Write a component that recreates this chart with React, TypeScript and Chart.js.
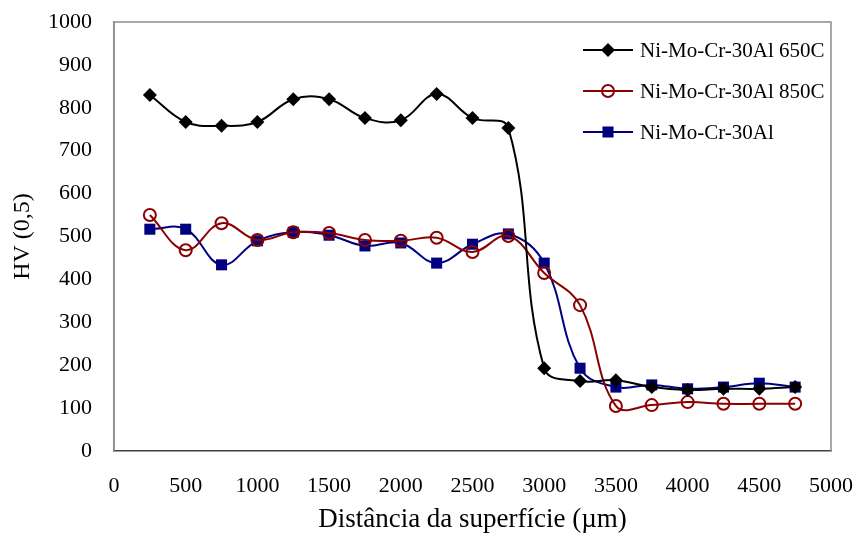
import React, { useEffect, useRef } from "react";
import { Chart, registerables } from "chart.js";

Chart.register(...registerables);

const distances = [250, 500, 750, 1000, 1250, 1500, 1750, 2000, 2250, 2500, 2750, 3000, 3250, 3500, 3750, 4000, 4250, 4500, 4750];
const hv650 = [830, 767, 758, 767, 820, 820, 776, 771, 832, 776, 753, 193, 163, 165, 149, 142, 145, 145, 149];
const hv850 = [550, 468, 531, 492, 510, 508, 492, 490, 497, 464, 501, 415, 340, 105, 107, 114, 110, 110, 110];
const hvBase = [517, 517, 434, 490, 510, 503, 478, 485, 438, 482, 506, 438, 193, 149, 154, 145, 149, 158, 149];
const seriesNames = ["Ni-Mo-Cr-30Al 650C", "Ni-Mo-Cr-30Al 850C", "Ni-Mo-Cr-30Al"];
const xTicks = [0, 500, 1000, 1500, 2000, 2500, 3000, 3500, 4000, 4500, 5000];
const yTicks = [0, 100, 200, 300, 400, 500, 600, 700, 800, 900, 1000];

const FONT = "'Liberation Serif', 'Times New Roman', serif";
const colors = ["#000000", "#8b0000", "#000080"];

function drawMarker(ctx: CanvasRenderingContext2D, kind: number, x: number, y: number) {
  ctx.save();
  ctx.lineWidth = 2;
  if (kind === 0) {
    ctx.fillStyle = "#000";
    ctx.beginPath();
    ctx.moveTo(x, y - 7);
    ctx.lineTo(x + 7, y);
    ctx.lineTo(x, y + 7);
    ctx.lineTo(x - 7, y);
    ctx.closePath();
    ctx.fill();
  } else if (kind === 1) {
    ctx.strokeStyle = colors[1];
    ctx.beginPath();
    ctx.arc(x, y, 6, 0, Math.PI * 2);
    ctx.stroke();
  } else {
    ctx.fillStyle = colors[2];
    ctx.fillRect(x - 5.5, y - 5.5, 11, 11);
  }
  ctx.restore();
}

const framePlugin = {
  id: "frameLegend",
  afterDraw(chart: any) {
    const { ctx, chartArea } = chart;
    const { left, right, top, bottom } = chartArea;
    ctx.save();
    ctx.strokeStyle = "#8c8c8c";
    ctx.lineWidth = 1.5;
    ctx.beginPath();
    ctx.moveTo(left, bottom);
    ctx.lineTo(left, top);
    ctx.lineTo(right, top);
    ctx.lineTo(right, bottom);
    ctx.stroke();
    const rows = [50, 91, 132];
    ctx.font = `21px ${FONT}`;
    ctx.textBaseline = "middle";
    ctx.textAlign = "left";
    rows.forEach((ry, i) => {
      ctx.strokeStyle = colors[i];
      ctx.lineWidth = 2;
      ctx.beginPath();
      ctx.moveTo(583, ry);
      ctx.lineTo(633, ry);
      ctx.stroke();
      drawMarker(ctx, i, 608, ry);
      ctx.fillStyle = "#000";
      ctx.fillText(seriesNames[i], 640, ry + 1);
    });
    ctx.restore();
  },
};

export default function App() {
  const ref = useRef<HTMLCanvasElement | null>(null);
  useEffect(() => {
    if (!ref.current) return;
    const mk = (data: number[]) => data.map((v, i) => ({ x: distances[i], y: v }));
    const chart = new Chart(ref.current, {
      type: "line",
      data: {
        datasets: [
          {
            label: seriesNames[0],
            data: mk(hv650),
            borderColor: colors[0],
            backgroundColor: colors[0],
            borderWidth: 2,
            pointStyle: "rectRot",
            pointRadius: 7,
            pointBorderWidth: 0,
            tension: 0.4,
          },
          {
            label: seriesNames[1],
            data: mk(hv850),
            borderColor: colors[1],
            backgroundColor: "rgba(0,0,0,0)",
            borderWidth: 2,
            pointStyle: "circle",
            pointRadius: 6,
            pointBorderWidth: 2,
            tension: 0.4,
          },
          {
            label: seriesNames[2],
            data: mk(hvBase),
            borderColor: colors[2],
            backgroundColor: colors[2],
            borderWidth: 2,
            pointStyle: "rect",
            pointRadius: 7.8,
            pointBorderWidth: 0,
            tension: 0.4,
          },
        ],
      },
      options: {
        responsive: false,
        animation: false,
        layout: { padding: { top: 22, right: 29, left: 0, bottom: 0 } },
        plugins: { legend: { display: false }, tooltip: { enabled: false } },
        scales: {
          x: {
            type: "linear",
            min: 0,
            max: 5000,
            afterBuildTicks: (s: any) => { s.ticks = xTicks.map((v) => ({ value: v })); },
            afterFit: (s: any) => { s.height = 82; s.paddingLeft = 0; s.paddingRight = 0; },
            grid: { display: false, drawTicks: true, tickLength: 6, tickColor: "#404040" },
            border: { display: true, color: "#404040", width: 1.5 },
            ticks: { color: "#000", font: { family: FONT, size: 22 }, padding: 16, maxRotation: 0, callback: (v: any) => String(v) },
            title: { display: true, text: "Distância da superfície (µm)", color: "#000", font: { family: FONT, size: 27 }, padding: { top: 0, bottom: -3 } },
          },
          y: {
            min: 0,
            max: 1000,
            afterBuildTicks: (s: any) => { s.ticks = yTicks.map((v) => ({ value: v })); },
            afterFit: (s: any) => { s.width = 114; s.paddingTop = 0; s.paddingBottom = 0; },
            grid: { display: false, drawTicks: true, tickLength: 4, tickColor: "#404040" },
            border: { display: true, color: "#8c8c8c", width: 1.5 },
            ticks: { color: "#000", font: { family: FONT, size: 22 }, padding: 18, callback: (v: any) => String(v) },
            title: { display: true, text: "HV (0,5)", color: "#000", font: { family: FONT, size: 24 }, padding: { top: 8, bottom: 0 } },
          },
        },
      },
      plugins: [framePlugin],
    });
    return () => chart.destroy();
  }, []);
  return (
    <div style={{ position: "fixed", left: 0, top: 0, width: 860, height: 533, background: "#fff" }}>
      <canvas ref={ref} width={860} height={533} />
    </div>
  );
}
